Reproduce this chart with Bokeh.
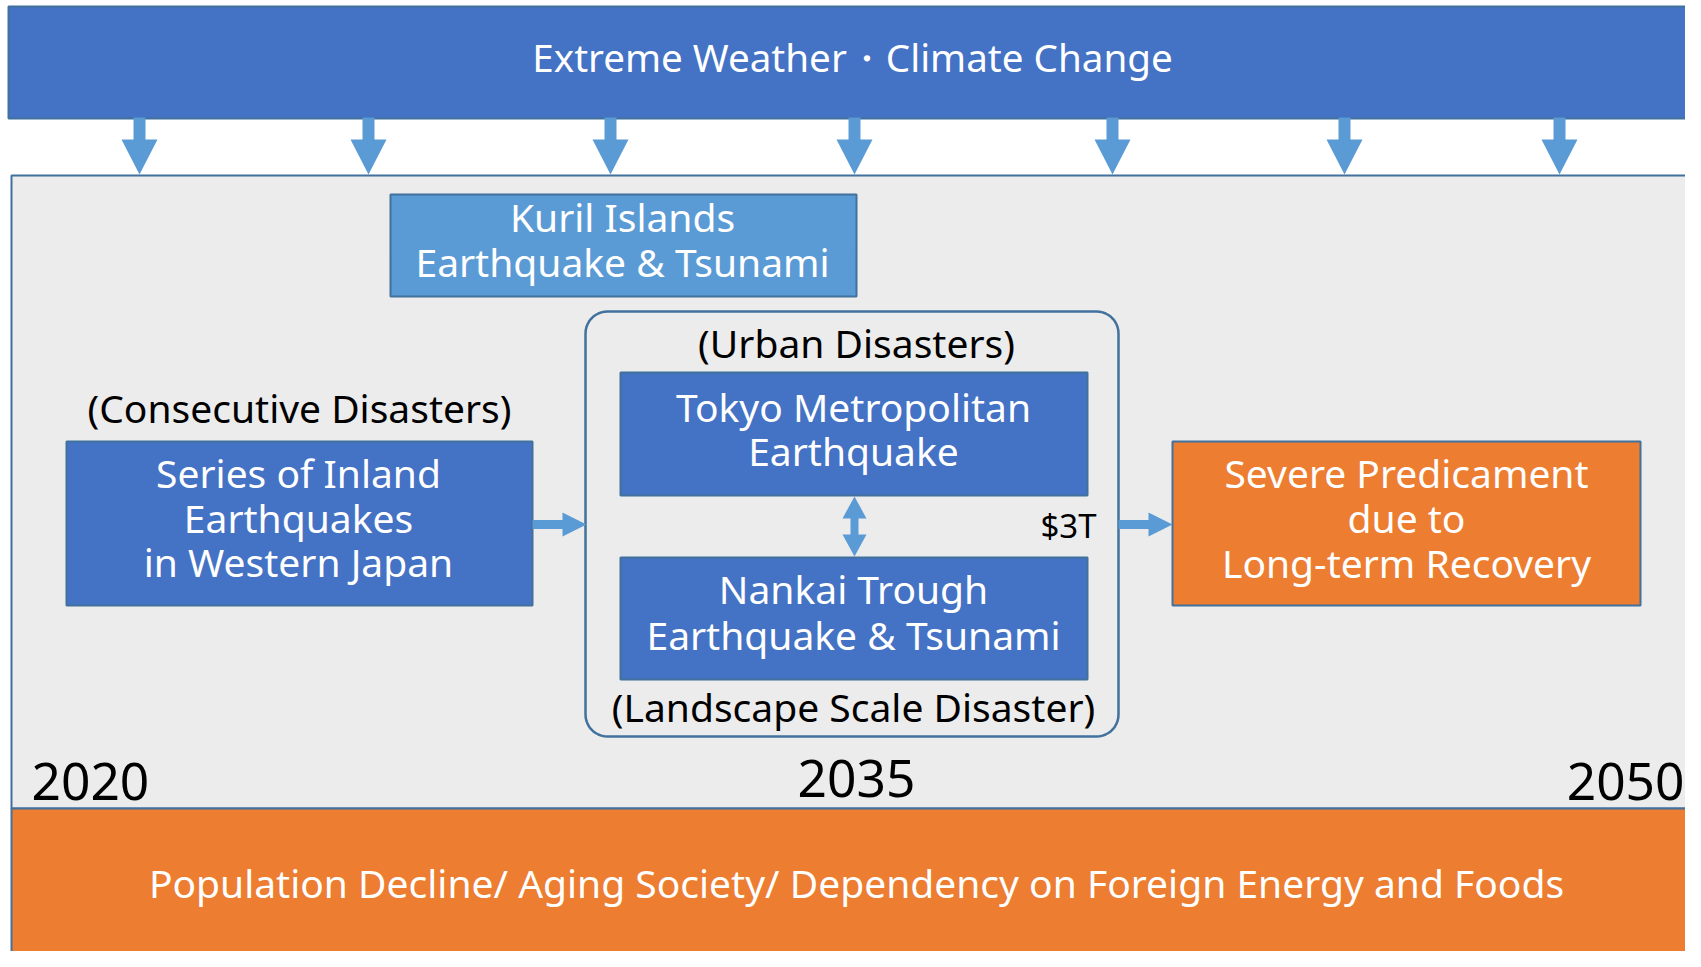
import numpy as np
from bokeh.plotting import figure
from bokeh.models import Range1d, ColumnDataSource
from bokeh.core.properties import value
from bokeh.embed import file_html
from bokeh.resources import INLINE

FONT = "Noto Sans"

# ---- content ----
top_label = "Extreme Weather・Climate Change"
bottom_label = "Population Decline/ Aging Society/ Dependency on Foreign Energy and Foods"
years = ["2020", "2035", "2050"]
year_x = [31, 856, 1684]
year_y = [781, 778, 781]

box_names = ["top", "panel", "bottom", "kuril", "series", "tokyo", "nankai", "severe"]
box_left = [8, 11, 11, 390, 66, 620, 620, 1172]
box_right = [1696, 1698, 1698, 856, 532, 1087, 1087, 1640]
box_top = [6, 175, 808, 194, 441, 372, 557, 441]
box_bottom = [118, 808, 975, 296, 605, 495, 679, 605]
box_fill = ["#4472c4", "#ececec", "#ed7d31", "#5b9bd5", "#4472c4", "#4472c4", "#4472c4", "#ed7d31"]

group_box = dict(left=585, right=1118, top=311, bottom=736, radius=22)

box_lines = {
    "kuril": ["Kuril Islands", "Earthquake & Tsunami"],
    "series": ["Series of Inland", "Earthquakes", "in Western Japan"],
    "tokyo": ["Tokyo Metropolitan", "Earthquake"],
    "nankai": ["Nankai Trough", "Earthquake & Tsunami"],
    "severe": ["Severe Predicament", "due to", "Long-term Recovery"],
}
box_text_x = {"kuril": 622, "series": 298, "tokyo": 853, "nankai": 853, "severe": 1406}
box_text_y = {"kuril": [216, 261], "series": [472, 517, 561], "tokyo": [406, 450],
              "nankai": [588, 634], "severe": [472, 517, 562]}

labels = ["(Consecutive Disasters)", "(Urban Disasters)", "(Landscape Scale Disaster)"]
label_x = [299, 856, 853]
label_y = [407, 342, 706]

money_label = "$3T"
money_pos = (1096, 525)
down_arrow_x = [139, 368, 610, 854, 1112, 1344, 1559]
right_arrow_x0 = [532, 1118]
right_arrow_x1 = [586, 1172]
right_arrow_y = [524, 524]
double_arrow = dict(x=854, y0=496, y1=556)

ARROW = "#5b9bd5"
EDGE = "#41719c"

W, H = 1685, 951
p = figure(width=W, height=H, output_backend="svg", toolbar_location=None,
           x_range=Range1d(0, W), y_range=Range1d(H, 0), min_border=0)
p.axis.visible = False
p.grid.visible = False
p.outline_line_color = None
p.background_fill_color = "white"
p.border_fill_color = "white"

src = ColumnDataSource(dict(left=box_left, right=box_right, top=box_top, bottom=box_bottom,
                            fill=box_fill))
p.quad(left="left", right="right", top="top", bottom="bottom", source=src,
       fill_color="fill", line_color=EDGE, line_width=2)

# rounded group box
def rounded(l, r, t, b, rad, n=12):
    xs, ys = [], []
    corners = [(r - rad, t + rad, -np.pi / 2, 0), (r - rad, b - rad, 0, np.pi / 2),
               (l + rad, b - rad, np.pi / 2, np.pi), (l + rad, t + rad, np.pi, 1.5 * np.pi)]
    for cx, cy, a0, a1 in corners:
        a = np.linspace(a0, a1, n)
        xs.extend(cx + rad * np.cos(a))
        ys.extend(cy + rad * np.sin(a))
    return xs, ys

gx, gy = rounded(group_box["left"], group_box["right"], group_box["top"], group_box["bottom"],
                 group_box["radius"])
p.patch(gx, gy, fill_color=None, line_color=EDGE, line_width=2.5)

# arrows
def down_arrow(x, y0=117, yh=139, y1=174, sw=6, hw=18):
    return ([x - sw, x + sw, x + sw, x + hw, x, x - hw, x - sw],
            [y0, y0, yh, yh, y1, yh, yh])

def right_arrow(x0, x1, y, sw=4.5, hw=12, hl=24):
    xh = x1 - hl
    return ([x0, xh, xh, x1, xh, xh, x0], [y - sw, y - sw, y - hw, y, y + hw, y + sw, y + sw])

def updown_arrow(x, y0, y1, sw=4, hw=12, hl=22):
    return ([x, x + hw, x + sw, x + sw, x + hw, x, x - hw, x - sw, x - sw, x - hw],
            [y0, y0 + hl, y0 + hl, y1 - hl, y1 - hl, y1, y1 - hl, y1 - hl, y0 + hl, y0 + hl])

axs, ays = [], []
for x in down_arrow_x:
    a, b = down_arrow(x)
    axs.append(a); ays.append(b)
for x0, x1, y in zip(right_arrow_x0, right_arrow_x1, right_arrow_y):
    a, b = right_arrow(x0, x1, y)
    axs.append(a); ays.append(b)
a, b = updown_arrow(double_arrow["x"], double_arrow["y0"], double_arrow["y1"])
axs.append(a); ays.append(b)
p.patches(axs, ays, fill_color=ARROW, line_color=None)

def txt(x, y, s, size, color, align="center"):
    p.text(x=[x], y=[y], text=[s], text_font=value(FONT), text_font_size=f"{size}px",
           text_color=color, text_align=align, text_baseline="middle")

txt(852, 56, top_label, 38.6, "white")
txt(856, 882, bottom_label, 39, "white")

for k, lines in box_lines.items():
    for s, y in zip(lines, box_text_y[k]):
        txt(box_text_x[k], y, s, 39, "white")

for s, x, y in zip(labels, label_x, label_y):
    txt(x, y, s, 39, "black")

txt(money_pos[0], money_pos[1], money_label, 33, "black", align="right")

aligns = ["left", "center", "right"]
for s, x, y, al in zip(years, year_x, year_y, aligns):
    txt(x, y, s, 51.5, "black", align=al)

open("out.html", "w").write(file_html(p, INLINE))
